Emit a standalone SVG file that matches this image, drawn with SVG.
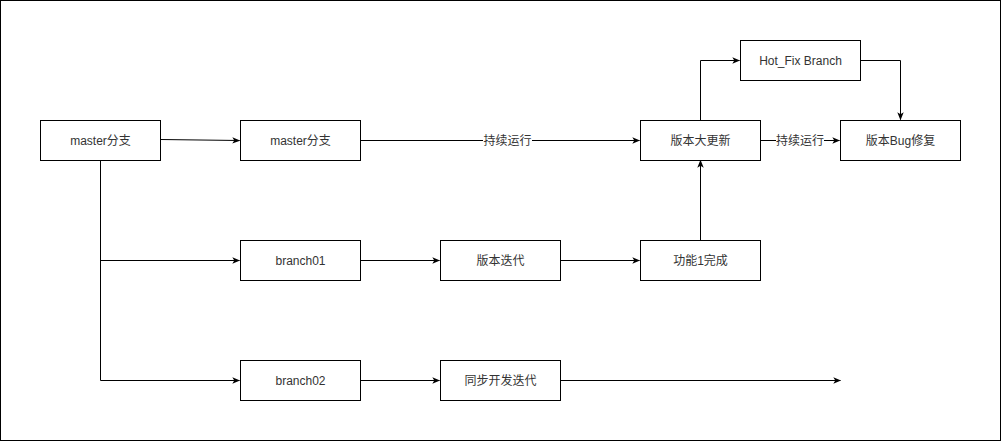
<svg xmlns="http://www.w3.org/2000/svg" width="1001" height="441" viewBox="0 0 1001 441">
<style>
.n{fill:#fff;stroke:#000;stroke-width:1}
.t{font-family:"Liberation Sans","Noto Sans CJK SC",sans-serif;font-size:12px;fill:#333;text-anchor:middle;dominant-baseline:central}
.e{fill:none;stroke:#000;stroke-width:1}
.lb{fill:#fff}
</style>
<defs>
<marker id="a" viewBox="0 0 10 10" refX="9" refY="5" markerWidth="8" markerHeight="8" markerUnits="userSpaceOnUse" orient="auto">
<path d="M0,1 L10,5 L0,9 L2.5,5 Z" fill="#000"/>
</marker>
</defs>
<rect x="0.5" y="0.5" width="1000" height="440" fill="#fff" stroke="#000"/>
<g id="connectors">
<path class="e" d="M160.5,139.5 L239.5,140.5" marker-end="url(#a)"/>
<path class="e" d="M100.5,160.5 L100.5,260.5 L239.5,260.5" marker-end="url(#a)"/>
<path class="e" d="M100.5,160.5 L100.5,380.5 L239.5,380.5" marker-end="url(#a)"/>
<path class="e" d="M360.5,140.5 L639.5,140.5" marker-end="url(#a)"/>
<path class="e" d="M700.5,120.5 L700.5,60.5 L739.5,60.5" marker-end="url(#a)"/>
<path class="e" d="M860.5,60.5 L900.5,60.5 L900.5,119.5" marker-end="url(#a)"/>
<path class="e" d="M760.5,140.5 L839.5,140.5" marker-end="url(#a)"/>
<path class="e" d="M360.5,260.5 L439.5,260.5" marker-end="url(#a)"/>
<path class="e" d="M560.5,260.5 L639.5,260.5" marker-end="url(#a)"/>
<path class="e" d="M700.5,240.5 L700.5,160.5" marker-end="url(#a)"/>
<path class="e" d="M360.5,380.5 L439.5,380.5" marker-end="url(#a)"/>
<path class="e" d="M560.5,380.5 L840.5,380.5" marker-end="url(#a)"/>
<rect class="lb" x="483" y="133" width="49" height="15"/>
<text class="t" x="507.5" y="140.5">持续运行</text>
<rect class="lb" x="776" y="133" width="48" height="15"/>
<text class="t" x="800" y="140.5">持续运行</text>
</g>
<g id="master1"><rect class="n" x="40.5" y="120.5" width="120" height="40"/><text class="t" x="100.5" y="140.5">master分支</text></g>
<g id="master2"><rect class="n" x="240.5" y="120.5" width="120" height="40"/><text class="t" x="300.5" y="140.5">master分支</text></g>
<g id="bigupdate"><rect class="n" x="640.5" y="120.5" width="120" height="40"/><text class="t" x="700.5" y="140.5">版本大更新</text></g>
<g id="hotfix"><rect class="n" x="740.5" y="40.5" width="120" height="40"/><text class="t" x="800.5" y="60.5">Hot_Fix Branch</text></g>
<g id="bugfix"><rect class="n" x="840.5" y="120.5" width="120" height="40"/><text class="t" x="900.5" y="140.5">版本Bug修复</text></g>
<g id="branch01"><rect class="n" x="240.5" y="240.5" width="120" height="40"/><text class="t" x="300.5" y="260.5">branch01</text></g>
<g id="iter"><rect class="n" x="440.5" y="240.5" width="120" height="40"/><text class="t" x="500.5" y="260.5">版本迭代</text></g>
<g id="feature1"><rect class="n" x="640.5" y="240.5" width="120" height="40"/><text class="t" x="700.5" y="260.5">功能1完成</text></g>
<g id="branch02"><rect class="n" x="240.5" y="360.5" width="120" height="40"/><text class="t" x="300.5" y="380.5">branch02</text></g>
<g id="synciter"><rect class="n" x="440.5" y="360.5" width="120" height="40"/><text class="t" x="500.5" y="380.5">同步开发迭代</text></g>
</svg>
